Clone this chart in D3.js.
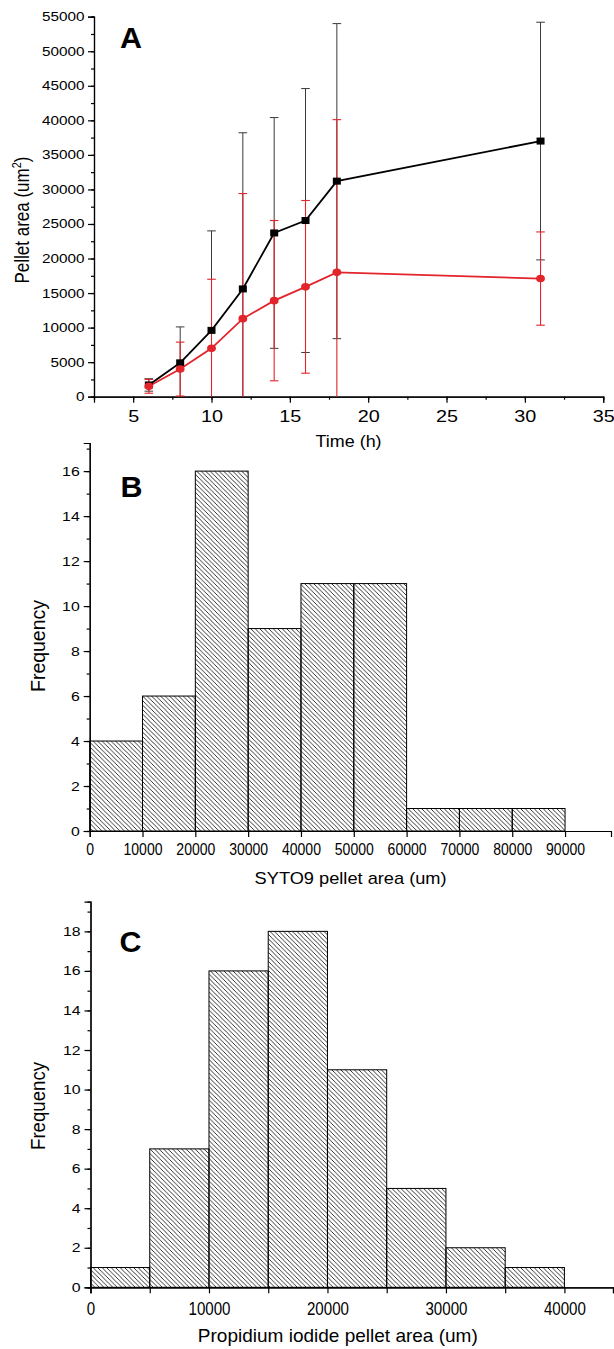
<!DOCTYPE html>
<html>
<head>
<meta charset="utf-8">
<script src="https://cdn.jsdelivr.net/npm/d3@7"></script>
<style>
  body { margin: 0; background: #fff; }
  svg { display: block; font-family: "Liberation Sans", Arial, sans-serif; }
  .axis path, .axis line { stroke: #000; stroke-width: 1.2; }
  .axis text { fill: #000; }
</style>
</head>
<body>
<script>
// panel A : pellet area over time
const timeH = [6, 8, 10, 12, 14, 16, 18, 31];
const sytoMean = [1700, 4900, 9600, 15600, 23700, 25500, 31200, 37000];
const sytoErr = [900, 5200, 14400, 22600, 16700, 19100, 22800, 17200];
const piMean = [1500, 4000, 7000, 11300, 13900, 15900, 18000, 17100];
const piErr = [1000, 3900, 10000, 18100, 11600, 12500, 22100, 6750];
const timeTicks = [5, 10, 15, 20, 25, 30, 35];
const areaTicks = [0, 5000, 10000, 15000, 20000, 25000, 30000, 35000, 40000, 45000, 50000, 55000];

// panel B : SYTO9 histogram
const sytoBins = [0, 10000, 20000, 30000, 40000, 50000, 60000, 70000, 80000];
const sytoBinWidth = 10000;
const sytoFreq = [4, 6, 16, 9, 11, 11, 1, 1, 1];
const sytoTicks = [0, 10000, 20000, 30000, 40000, 50000, 60000, 70000, 80000, 90000];
const sytoFreqTicks = [0, 2, 4, 6, 8, 10, 12, 14, 16];

// panel C : propidium iodide histogram
const piBins = [0, 5000, 10000, 15000, 20000, 25000, 30000, 35000];
const piBinWidth = 5000;
const piFreq = [1, 7, 16, 18, 11, 5, 2, 1];
const piTicks = [0, 10000, 20000, 30000, 40000];
const piFreqTicks = [0, 2, 4, 6, 8, 10, 12, 14, 16, 18];

const W = 614, H = 1349;
const red = '#e2242b';
const svg = d3.select('body').append('svg').attr('width', W).attr('height', H);

// hatch used by both histograms
svg.append('defs').append('pattern')
  .attr('id', 'hatch')
  .attr('patternUnits', 'userSpaceOnUse')
  .attr('width', 4.5).attr('height', 4.5)
  .append('path')
  .attr('d', 'M-1,3.5 L1,5.5 M-1,-1 L5.5,5.5 M3.5,-1 L5.5,1')
  .attr('stroke', '#111').attr('stroke-width', 0.85);

// the original lettering is stretched / squeezed sideways, textLength copies that
let fitTicks = (g, size, perChar) => {
  g.selectAll('.tick text')
    .attr('font-size', size)
    .attr('textLength', function () { return this.textContent.length * perChar; })
    .attr('lengthAdjust', 'spacingAndGlyphs');
};

let addTitle = (txt, x, y, size, len) => {
  return svg.append('text')
    .attr('x', x).attr('y', y)
    .attr('text-anchor', 'middle')
    .attr('font-size', size)
    .attr('textLength', len).attr('lengthAdjust', 'spacingAndGlyphs')
    .text(txt);
};

let addYTitle = (txt, x, y, size, len) => {
  return svg.append('text')
    .attr('text-anchor', 'middle')
    .attr('font-size', size)
    .attr('textLength', len).attr('lengthAdjust', 'spacingAndGlyphs')
    .attr('transform', 'translate(' + x + ',' + y + ') scale(1.15,1) rotate(-90)')
    .text(txt);
};

let panelLetter = (txt, x, y) => {
  svg.append('text').attr('x', x).attr('y', y)
    .attr('font-size', 29).attr('font-weight', 'bold')
    .attr('textLength', 22).attr('lengthAdjust', 'spacingAndGlyphs')
    .text(txt);
};

// ---------- panel A ----------
const xA = d3.scaleLinear().domain([2.5, 35]).range([94, 603.2]);
const yA = d3.scaleLinear().domain([0, 55000]).range([396.7, 16.7]);

// minor ticks
svg.append('g').attr('class', 'axis').attr('transform', 'translate(0,' + yA(0) + ')')
  .call(d3.axisBottom(xA).tickValues(d3.range(2.5, 35.1, 2.5)).tickSize(3).tickFormat(''));
svg.append('g').attr('class', 'axis').attr('transform', 'translate(' + xA(2.5) + ',0)')
  .call(d3.axisLeft(yA).tickValues(d3.range(0, 55001, 2500)).tickSize(3).tickFormat(''));

const xAxisA = svg.append('g').attr('class', 'axis').attr('transform', 'translate(0,' + yA(0) + ')')
  .call(d3.axisBottom(xA).tickValues(timeTicks).tickSize(6).tickPadding(7.5).tickFormat(d3.format('d')));
fitTicks(xAxisA, 16, 11);

const yAxisA = svg.append('g').attr('class', 'axis').attr('transform', 'translate(' + xA(2.5) + ',0)')
  .call(d3.axisLeft(yA).tickValues(areaTicks).tickSize(6).tickPadding(3.5).tickFormat(d3.format('d')));
fitTicks(yAxisA, 12.5, 8.5);

const ptsA = timeH.map((t, i) => ({ t: t, s: sytoMean[i], se: sytoErr[i], p: piMean[i], pe: piErr[i] }));

// error bars: black series under the red one, cut at the x axis
let errBars = (key, errKey, color, width) => {
  const g = svg.append('g').attr('stroke', color).attr('stroke-width', width).attr('fill', 'none');
  ptsA.forEach(d => {
    const lo = Math.max(0, d[key] - d[errKey]), hi = d[key] + d[errKey];
    const cx = xA(d.t);
    g.append('line').attr('x1', cx).attr('x2', cx).attr('y1', yA(lo)).attr('y2', yA(hi));
    g.append('line').attr('x1', cx - 4.3).attr('x2', cx + 4.3).attr('y1', yA(hi)).attr('y2', yA(hi));
    if (d[key] - d[errKey] > 0) {
      g.append('line').attr('x1', cx - 4.3).attr('x2', cx + 4.3).attr('y1', yA(lo)).attr('y2', yA(lo));
    }
  });
};
errBars('s', 'se', '#3a3a3a', 1);
errBars('p', 'pe', red, 1.1);

svg.append('path').datum(ptsA)
  .attr('fill', 'none').attr('stroke', '#000').attr('stroke-width', 1.8)
  .attr('d', d3.line().x(d => xA(d.t)).y(d => yA(d.s)));
svg.append('path').datum(ptsA)
  .attr('fill', 'none').attr('stroke', red).attr('stroke-width', 1.8)
  .attr('d', d3.line().x(d => xA(d.t)).y(d => yA(d.p)));

svg.append('g').selectAll('rect').data(ptsA).enter().append('rect')
  .attr('x', d => xA(d.t) - 4).attr('y', d => yA(d.s) - 3.5)
  .attr('width', 8).attr('height', 7).attr('fill', '#000');
svg.append('g').selectAll('ellipse').data(ptsA).enter().append('ellipse')
  .attr('cx', d => xA(d.t)).attr('cy', d => yA(d.p)).attr('rx', 4.4).attr('ry', 3.8)
  .attr('fill', red);

panelLetter('A', 120, 48);
addTitle('Time (h)', 348.6, 447, 17, 66);
const tA = svg.append('text')
  .attr('text-anchor', 'middle').attr('font-size', 17)
  .attr('transform', 'translate(29,220) scale(1.15,1) rotate(-90)');
tA.append('tspan').text('Pellet area (um');
tA.append('tspan').attr('font-size', 11).attr('dy', -7).text('2');
tA.append('tspan').attr('dy', 7).text(')');

// ---------- histogram helper ----------
let histogram = (cfg) => {
  const x = d3.scaleLinear().domain(cfg.xDomain).range(cfg.xRange);
  const y = d3.scaleLinear().domain(cfg.yDomain).range(cfg.yRange);

  svg.append('g').selectAll('rect').data(cfg.bins).enter().append('rect')
    .attr('x', d => x(d))
    .attr('y', (d, i) => y(cfg.freq[i]))
    .attr('width', d => x(d + cfg.binWidth) - x(d))
    .attr('height', (d, i) => y(0) - y(cfg.freq[i]))
    .attr('fill', 'url(#hatch)')
    .attr('stroke', '#000').attr('stroke-width', 1);

  svg.append('g').attr('class', 'axis').attr('transform', 'translate(' + x(0) + ',0)')
    .call(d3.axisLeft(y).tickValues(d3.range(0, cfg.yDomain[1], 1)).tickSize(3).tickFormat(''));
  const ya = svg.append('g').attr('class', 'axis').attr('transform', 'translate(' + x(0) + ',0)')
    .call(d3.axisLeft(y).tickValues(cfg.yTicks).tickSize(6).tickPadding(4));
  fitTicks(ya, 12.5, 8.8);

  if (cfg.xMinor) {
    svg.append('g').attr('class', 'axis').attr('transform', 'translate(0,' + y(0) + ')')
      .call(d3.axisBottom(x).tickValues(cfg.xMinor).tickSize(6).tickFormat(''));
  }
  const xa = svg.append('g').attr('class', 'axis').attr('transform', 'translate(0,' + y(0) + ')')
    .call(d3.axisBottom(x).tickValues(cfg.xTicks).tickSize(6).tickPadding(cfg.xPad).tickFormat(d3.format('d')));
  fitTicks(xa, cfg.xFont, cfg.perChar);
};

// ---------- panel B ----------
histogram({
  bins: sytoBins, freq: sytoFreq, binWidth: sytoBinWidth,
  xDomain: [0, 98700], xRange: [89.7, 611],
  yDomain: [0, 17.25], yRange: [831, 443],
  yTicks: sytoFreqTicks, xTicks: sytoTicks,
  xFont: 16, perChar: 7.8, xPad: 6.5
});
panelLetter('B', 120.6, 497);
addTitle('SYTO9 pellet area (um)', 350.6, 884, 17, 192);
addYTitle('Frequency', 45, 646, 17, 92);

// ---------- panel C ----------
histogram({
  bins: piBins, freq: piFreq, binWidth: piBinWidth,
  xDomain: [0, 44100], xRange: [90.5, 613],
  yDomain: [0, 19.5], yRange: [1287.3, 901.7],
  yTicks: piFreqTicks, xTicks: piTicks,
  xMinor: [5000, 15000, 25000, 35000],
  xFont: 18, perChar: 8.4, xPad: 8.5
});
panelLetter('C', 119.5, 952);
addTitle('Propidium iodide pellet area (um)', 337.8, 1342, 19, 280);
addYTitle('Frequency', 45, 1106, 17, 88);
</script>
</body>
</html>
